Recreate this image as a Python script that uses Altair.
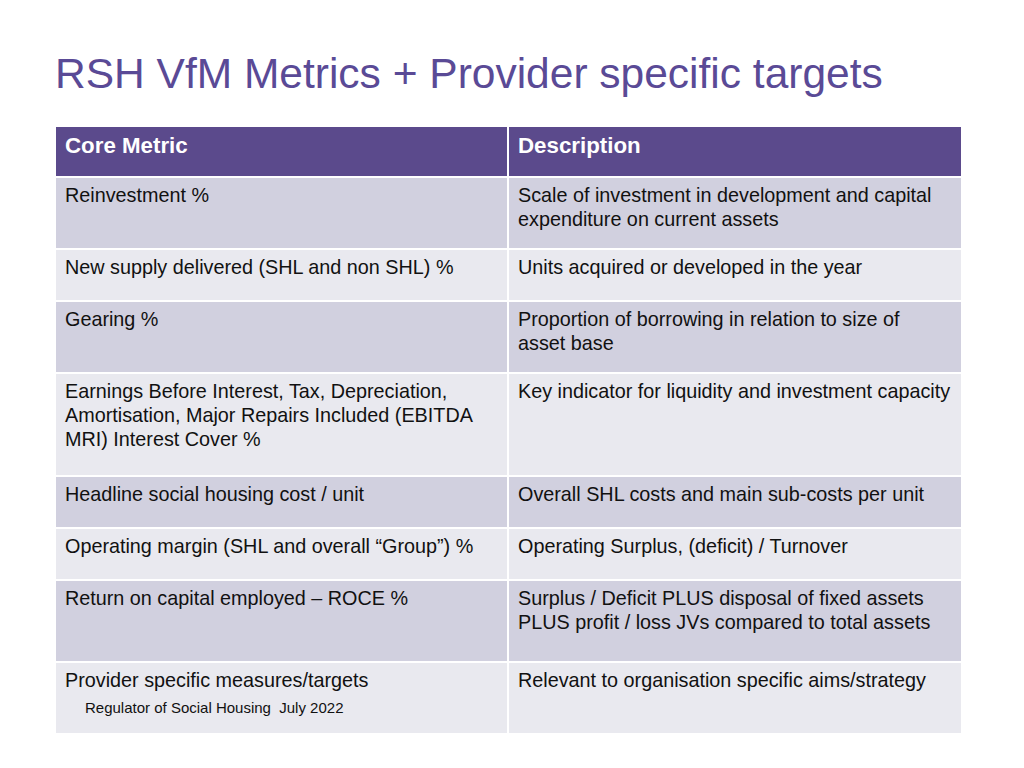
import altair as alt
import pandas as pd

title_text = ["RSH VfM Metrics + Provider specific targets"]
headers = ["Core Metric", "Description"]
metrics = [
    "Reinvestment %",
    "New supply delivered (SHL and non SHL) %",
    "Gearing %",
    "Earnings Before Interest, Tax, Depreciation,\nAmortisation, Major Repairs Included (EBITDA\nMRI) Interest Cover %",
    "Headline social housing cost / unit",
    "Operating margin (SHL and overall \u201cGroup\u201d) %",
    "Return on capital employed \u2013 ROCE %",
    "Provider specific measures/targets",
]
descriptions = [
    "Scale of investment in development and capital\nexpenditure on current assets",
    "Units acquired or developed in the year",
    "Proportion of borrowing in relation to size of\nasset base",
    "Key indicator for liquidity and investment capacity",
    "Overall SHL costs and main sub-costs per unit",
    "Operating Surplus, (deficit) / Turnover",
    "Surplus / Deficit PLUS disposal of fixed assets\nPLUS profit / loss JVs compared to total assets",
    "Relevant to organisation specific aims/strategy",
]
footnote = ["Regulator of Social Housing \u00a0July 2022"]

# ---- layout (screen pixels) ----
FONT = "Liberation Sans"
col_edges = [55, 508, 962]
table_top = 126
row_heights = [51, 72, 52, 72, 103, 52, 52, 82, 72]
HEADER_C = "#5B4A8C"
DARK_C = "#D1D0DF"
LIGHT_C = "#E9E9EF"
TITLE_C = "#5A4A96"

edges = [table_top]
for h in row_heights:
    edges.append(edges[-1] + h)

cells = []
texts = []
for r in range(len(row_heights)):
    if r == 0:
        color = HEADER_C
        row_txt = headers
    else:
        color = DARK_C if r % 2 == 1 else LIGHT_C
        row_txt = [metrics[r - 1], descriptions[r - 1]]
    for c in range(2):
        cells.append(dict(x=col_edges[c], x2=col_edges[c + 1], y=edges[r], y2=edges[r + 1], color=color))
        for i, line in enumerate(row_txt[c].split("\n")):
            texts.append(dict(x=col_edges[c] + 10, y=edges[r] + (20 if r == 0 else 19) + i * 24,
                              t=line, kind="head" if r == 0 else "body"))

cells_df = pd.DataFrame(cells)
texts_df = pd.DataFrame(texts)

xs = alt.Scale(domain=[8, 1008], zero=False, nice=False)
ys = alt.Scale(domain=[8, 748], zero=False, nice=False, reverse=True)

rects = alt.Chart(cells_df).mark_rect(stroke="white", strokeWidth=2).encode(
    x=alt.X("x:Q", scale=xs, axis=None),
    x2="x2:Q",
    y=alt.Y("y:Q", scale=ys, axis=None),
    y2="y2:Q",
    color=alt.Color("color:N", scale=None),
)

head = alt.Chart(texts_df[texts_df.kind == "head"]).mark_text(
    align="left", baseline="middle", font=FONT, fontSize=22.3, fontWeight="bold", color="white"
).encode(x=alt.X("x:Q", scale=xs), y=alt.Y("y:Q", scale=ys), text="t:N")

body = alt.Chart(texts_df[texts_df.kind == "body"]).mark_text(
    align="left", baseline="middle", font=FONT, fontSize=19.8, color="#111111"
).encode(x=alt.X("x:Q", scale=xs), y=alt.Y("y:Q", scale=ys), text="t:N")

title = alt.Chart(pd.DataFrame({"t": title_text, "x": [55], "y": [75]})).mark_text(
    align="left", baseline="middle", font=FONT, fontSize=42.5, color=TITLE_C
).encode(x=alt.X("x:Q", scale=xs), y=alt.Y("y:Q", scale=ys), text="t:N")

foot = alt.Chart(pd.DataFrame({"t": footnote, "x": [85], "y": [708]})).mark_text(
    align="left", baseline="middle", font=FONT, fontSize=15, color="#111111"
).encode(x=alt.X("x:Q", scale=xs), y=alt.Y("y:Q", scale=ys), text="t:N")

chart = alt.layer(rects, head, body, title, foot).properties(
    width=1000, height=740, padding=0, background="white",
    autosize=alt.AutoSizeParams(type="none")
).configure_view(stroke=None)

chart.save("out.html", embed_options={"renderer": "svg", "actions": False})
